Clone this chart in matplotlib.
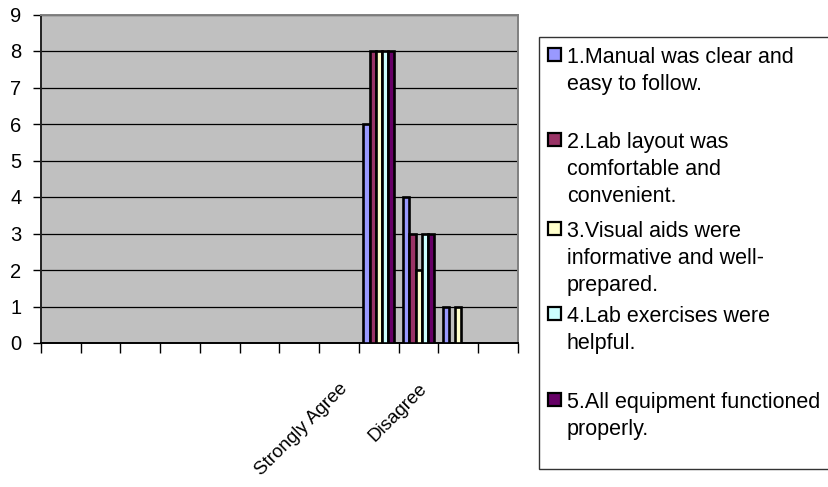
import matplotlib
matplotlib.use('Agg')
import matplotlib.pyplot as plt
import numpy as np
from matplotlib.patches import Rectangle

plt.rcParams['font.family'] = ['Liberation Sans', 'DejaVu Sans']

# 12 categories, only two of the labels are visible in the chart
categories = ['', '', '', '', '', '', '', 'Strongly Agree', '', 'Disagree', '', '']

q1 = [0, 0, 0, 0, 0, 0, 0, 0, 6, 4, 1, 0]
q2 = [0, 0, 0, 0, 0, 0, 0, 0, 8, 3, 0, 0]
q3 = [0, 0, 0, 0, 0, 0, 0, 0, 8, 2, 1, 0]
q4 = [0, 0, 0, 0, 0, 0, 0, 0, 8, 3, 0, 0]
q5 = [0, 0, 0, 0, 0, 0, 0, 0, 8, 3, 0, 0]

series = [q1, q2, q3, q4, q5]
colors = ['#9999FF', '#993366', '#FFFFCC', '#CCFFFF', '#660066']
legend_lines = [
    ['1.Manual was clear and', 'easy to follow.'],
    ['2.Lab layout was', 'comfortable and', 'convenient.'],
    ['3.Visual aids were', 'informative and well-', 'prepared.'],
    ['4.Lab exercises were', 'helpful.'],
    ['5.All equipment functioned', 'properly.'],
]

W, H = 829, 487
fig = plt.figure(figsize=(W / 100, H / 100), dpi=100)
ax = fig.add_axes([41 / W, 1 - 343 / H, (518 - 41) / W, (343 - 14.5) / H])
ax.set_facecolor('#C0C0C0')

x = np.arange(len(categories)) + 0.5
bw = 0.156
for j, vals in enumerate(series):
    vals = np.array(vals)
    keep = vals > 0
    ax.bar(x[keep] + (j - 2) * bw, vals[keep], width=bw, color=colors[j],
           edgecolor='black', linewidth=1.9, zorder=3)

ax.set_xlim(0, len(categories))
ax.set_ylim(0, 9)
ax.set_yticks(range(10))
ax.yaxis.grid(True, color='black', linewidth=0.9, zorder=1)
ax.set_axisbelow(True)

# boundary ticks (major) and labels at centres (minor)
ax.set_xticks(range(len(categories) + 1))
ax.set_xticklabels([])
ax.set_xticks(x, minor=True)
ax.set_xticklabels(categories, minor=True, rotation=45, ha='right', va='top',
                   rotation_mode='anchor', fontsize=13.5)
ax.tick_params(axis='x', which='major', direction='out', length=7, width=1, color='black')
ax.tick_params(axis='x', which='minor', length=0, pad=27)
ax.tick_params(axis='y', direction='out', length=6, width=1, labelsize=14.5, pad=8)

ax.spines['left'].set_color('#222222')
ax.spines['bottom'].set_color('black')
ax.spines['top'].set_color('#808080')
ax.spines['right'].set_color('#808080')
for s in ax.spines.values():
    s.set_linewidth(1.4)

# legend box drawn by hand so every entry gets the same height like the original
fig.patches.append(Rectangle((539 / W, 1 - 469 / H), (W + 5 - 539) / W, (469 - 37) / H,
                             transform=fig.transFigure, facecolor='white',
                             edgecolor='#333333', linewidth=1))
first_base = [63, 148, 237, 322, 408]
for j, lines in enumerate(legend_lines):
    b = first_base[j]
    fig.patches.append(Rectangle((548 / W, 1 - (b - 2) / H), 13 / W, 13 / H,
                                 transform=fig.transFigure, facecolor=colors[j],
                                 edgecolor='black', linewidth=1.6))
    for k, line in enumerate(lines):
        fig.text(567 / W, 1 - (b + 27 * k) / H, line, fontsize=15.5,
                 ha='left', va='baseline', color='black')

fig.savefig('out.png', dpi=100)
